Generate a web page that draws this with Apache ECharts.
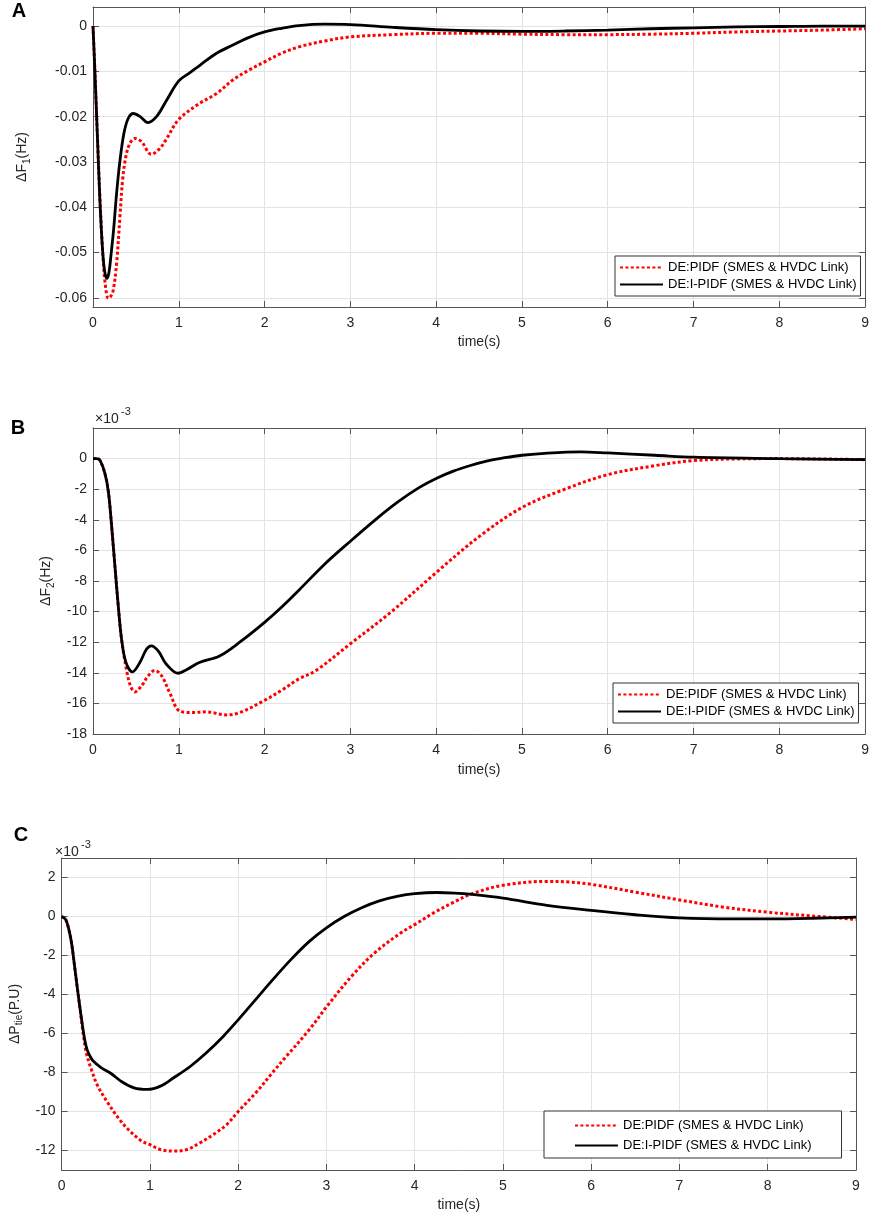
<!DOCTYPE html>
<html lang="en">
<head>
<meta charset="UTF-8">
<title>ΔF1, ΔF2, ΔPtie responses</title>
<script src="https://cdn.jsdelivr.net/npm/echarts@6/dist/echarts.min.js"></script>
<style>html,body{margin:0;padding:0;background:#fff;}</style>
</head>
<body>
<div id="main" style="width:872px;height:1214px;"></div>
<script>
var names = ['DE:PIDF (SMES & HVDC Link)', 'DE:I-PIDF (SMES & HVDC Link)'];
var FONT = '"Liberation Sans", Arial, sans-serif';

// panel A : delta F1 (Hz)
var tA_pidf = [0, 0.02, 0.05, 0.08, 0.11, 0.14, 0.178, 0.205, 0.236, 0.275, 0.314, 0.345, 0.383, 0.43, 0.488, 0.565, 0.68, 0.78, 0.86, 1.0, 1.24, 1.44, 1.63, 1.82, 2.0, 2.2, 2.4, 2.7, 3.0, 3.5, 4, 4.5, 5, 5.5, 6, 6.5, 7, 7.5, 8, 8.5, 9];
var fA_pidf = [0, -0.009, -0.0235, -0.0375, -0.049, -0.0565, -0.0601, -0.0597, -0.0583, -0.0524, -0.0421, -0.034, -0.0288, -0.0259, -0.0248, -0.0255, -0.0283, -0.027, -0.0248, -0.0206, -0.0171, -0.0149, -0.0119, -0.0097, -0.0079, -0.006, -0.0046, -0.0033, -0.0024, -0.0019, -0.0016, -0.0016, -0.0018, -0.0019, -0.0019, -0.0018, -0.0016, -0.0013, -0.0011, -0.0009, -0.0006];
var tA_ipidf = [0, 0.02, 0.05, 0.08, 0.11, 0.135, 0.16, 0.185, 0.21, 0.24, 0.275, 0.315, 0.36, 0.41, 0.47, 0.55, 0.64, 0.74, 0.86, 1.0, 1.13, 1.25, 1.44, 1.63, 1.82, 2.0, 2.2, 2.4, 2.7, 3.0, 3.5, 4, 4.5, 5, 5.5, 6, 6.5, 7, 7.5, 8, 8.5, 9];
var fA_ipidf = [0, -0.009, -0.0237, -0.0383, -0.049, -0.054, -0.0557, -0.0545, -0.0505, -0.045, -0.0369, -0.0296, -0.0237, -0.0204, -0.0193, -0.02, -0.0213, -0.02, -0.0163, -0.0121, -0.0103, -0.0086, -0.006, -0.0042, -0.0025, -0.0013, -0.0005, 0.0001, 0.0004, 0.0003, -0.0003, -0.0008, -0.0011, -0.0012, -0.0011, -0.0009, -0.0006, -0.0004, -0.0002, -0.0001, 0, 0];
var yTicksA = [-0.06, -0.05, -0.04, -0.03, -0.02, -0.01, 0];

// panel B : delta F2, values in units of 1e-3 Hz
var tB_pidf = [0, 0.04, 0.08, 0.14, 0.18, 0.217, 0.255, 0.294, 0.333, 0.39, 0.437, 0.488, 0.565, 0.643, 0.72, 0.8, 0.894, 1.01, 1.165, 1.32, 1.55, 1.71, 2.0, 2.21, 2.4, 2.6, 3.0, 3.48, 4.0, 4.5, 5.0, 5.5, 6.0, 6.55, 7.0, 7.5, 8.0, 9.0];
var fB_pidf = [0, 0, -0.1, -1.0, -2.2, -4.4, -7.0, -9.6, -11.8, -13.8, -14.86, -15.25, -14.86, -14.2, -13.85, -14.2, -15.3, -16.5, -16.6, -16.55, -16.75, -16.6, -15.8, -15.1, -14.4, -13.85, -12.1, -10.0, -7.45, -5.1, -3.2, -2.0, -1.05, -0.46, -0.13, -0.02, 0, -0.07];
var tB_ipidf = [0, 0.04, 0.08, 0.14, 0.18, 0.217, 0.255, 0.294, 0.333, 0.383, 0.46, 0.546, 0.623, 0.68, 0.76, 0.855, 0.99, 1.09, 1.24, 1.475, 1.71, 2.0, 2.2, 2.4, 2.7, 3.0, 3.28, 3.55, 3.8, 4.0, 4.2, 4.4, 4.6, 4.8, 5.0, 5.3, 5.68, 6.0, 6.55, 7.0, 8.0, 9.0];
var fB_ipidf = [0, 0, -0.1, -1.0, -2.2, -4.4, -7.0, -9.6, -11.8, -13.3, -13.94, -13.33, -12.46, -12.24, -12.57, -13.44, -14.03, -13.8, -13.33, -12.9, -12.0, -10.7, -9.7, -8.6, -6.9, -5.4, -4.05, -2.85, -1.9, -1.3, -0.82, -0.45, -0.15, 0.06, 0.22, 0.36, 0.44, 0.37, 0.22, 0.09, 0, -0.07];
var yTicksB = [-18, -16, -14, -12, -10, -8, -6, -4, -2, 0];

// panel C : delta Ptie, values in units of 1e-3 p.u.
var tC_pidf = [0, 0.045, 0.082, 0.112, 0.142, 0.175, 0.205, 0.243, 0.28, 0.337, 0.41, 0.524, 0.637, 0.75, 0.9, 1.0, 1.12, 1.27, 1.42, 1.57, 1.72, 1.87, 2.0, 2.2, 2.39, 2.54, 2.81, 3.01, 3.29, 3.55, 3.85, 4.01, 4.22, 4.45, 4.65, 5.0, 5.5, 5.75, 6.0, 6.5, 7.0, 7.5, 8.0, 8.5, 9.0];
var fC_pidf = [0, -0.15, -0.67, -1.35, -2.38, -3.57, -4.6, -5.97, -7.0, -7.85, -8.7, -9.56, -10.3, -10.9, -11.5, -11.7, -11.95, -12.03, -11.95, -11.6, -11.18, -10.67, -10.0, -9.04, -8.0, -7.2, -5.78, -4.58, -3.04, -1.85, -0.82, -0.39, 0.2, 0.75, 1.17, 1.6, 1.8, 1.77, 1.65, 1.25, 0.85, 0.48, 0.22, 0.03, -0.15];
var tC_ipidf = [0, 0.045, 0.082, 0.112, 0.142, 0.175, 0.205, 0.243, 0.265, 0.29, 0.32, 0.355, 0.45, 0.56, 0.67, 0.82, 0.97, 1.12, 1.27, 1.46, 1.64, 1.83, 2.0, 2.2, 2.4, 2.6, 2.8, 3.0, 3.2, 3.4, 3.6, 3.8, 4.0, 4.25, 4.45, 4.65, 5.0, 5.5, 6.0, 6.5, 7.0, 7.62, 8.0, 8.5, 9.0];
var fC_ipidf = [0, -0.15, -0.67, -1.35, -2.38, -3.57, -4.6, -5.8, -6.4, -6.85, -7.15, -7.4, -7.76, -8.05, -8.44, -8.79, -8.87, -8.7, -8.27, -7.68, -6.99, -6.15, -5.3, -4.25, -3.2, -2.2, -1.3, -0.58, 0.0, 0.45, 0.8, 1.03, 1.17, 1.23, 1.2, 1.13, 0.94, 0.57, 0.31, 0.09, -0.07, -0.12, -0.12, -0.09, -0.03];
var yTicksC = [-12, -10, -8, -6, -4, -2, 0, 2];

function pairs(t, v) {
    return t.map(function (x, i) { return [x, v[i]]; });
}

var boxColor = '#555';
var gridColor = '#e3e3e3';

function bottomAxis(g, gap) {
    return {
        type: 'value', gridIndex: g, position: 'bottom', min: 0, max: 9, interval: 1,
        name: 'time(s)', nameLocation: 'middle', nameGap: gap,
        nameTextStyle: { fontFamily: FONT, fontSize: 14, color: '#262626' },
        axisLine: { onZero: false, lineStyle: { color: boxColor, width: 1 } },
        axisTick: { inside: true, length: 6, lineStyle: { color: boxColor } },
        axisLabel: { margin: 9, fontFamily: FONT, fontSize: 14, color: '#262626' },
        splitLine: { show: true, lineStyle: { color: gridColor, width: 1 } }
    };
}
function topAxis(g) {
    return {
        type: 'value', gridIndex: g, position: 'top', min: 0, max: 9, interval: 1,
        axisLine: { onZero: false, lineStyle: { color: boxColor, width: 1 } },
        axisTick: { inside: true, length: 6, lineStyle: { color: boxColor } },
        axisLabel: { show: false }, splitLine: { show: false }
    };
}
function leftAxis(g, min, max, ticks, fmt, name, gap) {
    return {
        type: 'value', gridIndex: g, position: 'left', min: min, max: max,
        name: name, nameLocation: 'middle', nameGap: gap, nameRotate: 90,
        nameTextStyle: {
            fontFamily: FONT, fontSize: 14, color: '#262626',
            rich: { s: { fontFamily: FONT, fontSize: 10, color: '#262626', padding: [9, 0, 0, 0] } }
        },
        axisLine: { onZero: false, lineStyle: { color: boxColor, width: 1 } },
        axisTick: { inside: true, length: 6, customValues: ticks, lineStyle: { color: boxColor } },
        axisLabel: { margin: 6, customValues: ticks, formatter: fmt, fontFamily: FONT, fontSize: 14, color: '#262626' },
        splitLine: { show: true, lineStyle: { color: gridColor, width: 1 } }
    };
}
function rightAxis(g, min, max, ticks) {
    return {
        type: 'value', gridIndex: g, position: 'right', min: min, max: max,
        axisLine: { onZero: false, lineStyle: { color: boxColor, width: 1 } },
        axisTick: { inside: true, length: 6, customValues: ticks, lineStyle: { color: boxColor } },
        axisLabel: { show: false }, splitLine: { show: false }
    };
}
function pidf(g, t, v) {
    return {
        name: names[0], type: 'line', xAxisIndex: g * 2, yAxisIndex: g * 2,
        data: pairs(t, v), smooth: 0.35, symbol: 'none', showSymbol: false,
        lineStyle: { color: '#ff0000', width: 3, type: [3, 2.4] }, itemStyle: { color: '#ff0000' }, z: 3
    };
}
function ipidf(g, t, v) {
    return {
        name: names[1], type: 'line', xAxisIndex: g * 2, yAxisIndex: g * 2,
        data: pairs(t, v), smooth: 0.35, symbol: 'none', showSymbol: false,
        lineStyle: { color: '#000000', width: 2.8, type: 'solid' }, itemStyle: { color: '#000000' }, z: 4
    };
}
function legendBox(left, top, pad, gap) {
    return {
        show: true, data: names, orient: 'vertical', left: left, top: top,
        padding: pad, itemGap: gap, itemWidth: 43, itemHeight: 14,
        backgroundColor: '#fff', borderColor: '#333', borderWidth: 1, borderRadius: 0,
        itemStyle: { opacity: 0 },
        textStyle: { fontFamily: FONT, fontSize: 13, color: '#000' },
        selectedMode: false
    };
}

var fmt2 = function (v) { return v === 0 ? '0' : v.toFixed(2); };
var fmt0 = function (v) { return String(Math.round(v)); };

var option = {
    animation: false,
    backgroundColor: '#fff',
    grid: [
        { left: 93, top: 7, width: 775, height: 300 },
        { left: 93, top: 428, width: 775, height: 306 },
        { left: 53, top: 858, width: 803, height: 312 }
    ],
    xAxis: [
        bottomAxis(0, 28), topAxis(0),
        bottomAxis(1, 29), topAxis(1),
        bottomAxis(2, 28), topAxis(2)
    ],
    yAxis: [
        leftAxis(0, -0.062, 0.0042, yTicksA, fmt2, 'ΔF{s|1}(Hz)', 61), rightAxis(0, -0.062, 0.0042, yTicksA),
        leftAxis(1, -18, 2, yTicksB, fmt0, 'ΔF{s|2}(Hz)', 33), rightAxis(1, -18, 2, yTicksB),
        leftAxis(2, -13, 3, yTicksC, fmt0, 'ΔP{s|tie}(P.U)', 24), rightAxis(2, -13, 3, yTicksC)
    ],
    legend: [
        legendBox(615, 256, [5, 4, 5, 4], 4),
        legendBox(613, 683, [5, 4, 5, 4], 4),
        legendBox(544, 1111, [8, 30, 6, 30], 7)
    ],
    series: [
        pidf(0, tA_pidf, fA_pidf), ipidf(0, tA_ipidf, fA_ipidf),
        pidf(1, tB_pidf, fB_pidf), ipidf(1, tB_ipidf, fB_ipidf),
        pidf(2, tC_pidf, fC_pidf), ipidf(2, tC_ipidf, fC_ipidf)
    ],
    graphic: {
        elements: [
            { type: 'text', x: 19, y: 11, style: { text: 'A', font: 'bold 20px ' + FONT, fill: '#000', align: 'center', verticalAlign: 'middle' } },
            { type: 'text', x: 18, y: 428, style: { text: 'B', font: 'bold 20px ' + FONT, fill: '#000', align: 'center', verticalAlign: 'middle' } },
            { type: 'text', x: 21, y: 835, style: { text: 'C', font: 'bold 20px ' + FONT, fill: '#000', align: 'center', verticalAlign: 'middle' } },
            { type: 'text', x: 95, y: 419, style: { text: '×10', font: '14px ' + FONT, fill: '#262626', align: 'left', verticalAlign: 'middle' } },
            { type: 'text', x: 121, y: 412, style: { text: '-3', font: '11px ' + FONT, fill: '#262626', align: 'left', verticalAlign: 'middle' } },
            { type: 'text', x: 55, y: 852, style: { text: '×10', font: '14px ' + FONT, fill: '#262626', align: 'left', verticalAlign: 'middle' } },
            { type: 'text', x: 81, y: 845, style: { text: '-3', font: '11px ' + FONT, fill: '#262626', align: 'left', verticalAlign: 'middle' } }
        ]
    }
};

var myChart = echarts.init(document.getElementById('main'));
myChart.setOption(option);
</script>
</body>
</html>
